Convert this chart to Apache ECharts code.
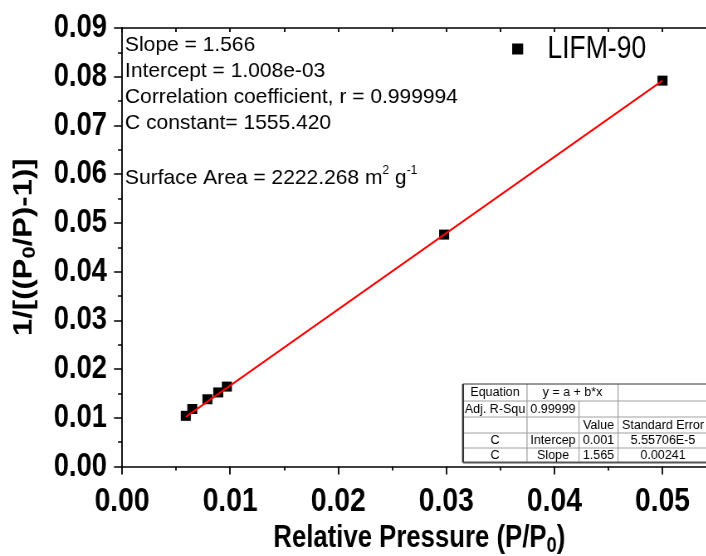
<!DOCTYPE html>
<html>
<head>
<meta charset="utf-8">
<script src="https://cdn.jsdelivr.net/npm/echarts@6/dist/echarts.min.js"></script>
<style>
  html, body { margin: 0; padding: 0; background: #fff; overflow: hidden; width: 706px; height: 556px; }
  /* The figure is laid out wide and compressed horizontally, like the original export */
  #chart { width: 851px; height: 556px; transform: scaleX(0.83); transform-origin: 0 0; }
</style>
</head>
<body>
<div id="chart"></div>
<script>
// BET plot data: relative pressure vs 1/[((P0/P)-1)]
const pressure = [0.0059, 0.0065, 0.0079, 0.0089, 0.0097, 0.0298, 0.0500];
const betValue = [0.0104, 0.0118, 0.0138, 0.0152, 0.0164, 0.0476, 0.0792];

// End points of the linear fit line
const fitPressure = [0.0059, 0.0500];
const fitValue = [0.0102, 0.0792];

const xTickLabels = ['0.00', '0.01', '0.02', '0.03', '0.04', '0.05'];
const yTickLabels = ['0.00', '0.01', '0.02', '0.03', '0.04', '0.05', '0.06', '0.07', '0.08', '0.09'];

const seriesName = 'LIFM-90';

// Fit summary text
const fitNotes = [
  'Slope = 1.566',
  'Intercept = 1.008e-03',
  'Correlation coefficient, r = 0.999994',
  'C constant= 1555.420'
];
const surfaceAreaText = 'Surface Area = 2222.268 m{sup|2} g{sup|-1}';

// Regression table rows: [col1, col2, col3, col4]; null = merged into the cell on its left
const tableRows = [
  ['Equation', 'y = a + b*x', null, ''],
  ['Adj. R-Squ', '0.99999', '', ''],
  ['', '', 'Value', 'Standard Error'],
  ['C', 'Intercep', '0.001', '5.55706E-5'],
  ['C', 'Slope', '1.565', '0.00241']
];

const S = 0.83;              // horizontal compression of the whole figure
const X = v => v / S;        // screen x -> canvas x
const SANS = "'Liberation Sans', Arial, sans-serif";

function labelFrom(list) {
  return function (v) {
    const idx = Math.round(v / 0.01);
    if (Math.abs(v - idx * 0.01) > 1e-9) return '';
    return list[idx] !== undefined ? list[idx] : '';
  };
}

// ---- regression table ----
const colX = [463, 527, 579, 618, 709].map(X);
const rowY = [384, 401, 417, 433, 448, 462.5];
const tableEls = [];
const lightH = { stroke: '#a0a0a0', lineWidth: 1 };
const lightV = { stroke: '#a0a0a0', lineWidth: 1 / S };
for (let r = 1; r < rowY.length - 1; r++) {
  tableEls.push({ type: 'line', shape: { x1: colX[0], y1: rowY[r], x2: colX[4], y2: rowY[r] }, style: lightH });
}
for (let c = 1; c < colX.length - 1; c++) {
  for (let r = 0; r < tableRows.length; r++) {
    if (c === 2 && tableRows[r][2] === null) continue;
    tableEls.push({ type: 'line', shape: { x1: colX[c], y1: rowY[r], x2: colX[c], y2: rowY[r + 1] }, style: lightV });
  }
}
tableEls.push({ type: 'line', shape: { x1: colX[0], y1: rowY[0], x2: colX[4], y2: rowY[0] }, style: { stroke: '#333', lineWidth: 1 } });
tableEls.push({ type: 'line', shape: { x1: colX[0], y1: rowY[0], x2: colX[0], y2: rowY[5] }, style: { stroke: '#333', lineWidth: 2 / S } });
tableEls.push({ type: 'line', shape: { x1: colX[0], y1: rowY[5], x2: colX[4], y2: rowY[5] }, style: { stroke: '#555', lineWidth: 2 } });
tableRows.forEach((row, r) => {
  const cy = (rowY[r] + rowY[r + 1]) / 2 + 0.5;
  row.forEach((txt, c) => {
    if (!txt) return;
    let x1 = colX[c], x2 = colX[c + 1];
    if (c === 1 && row[2] === null) x2 = colX[3];
    const cx = c === 3 ? X(663) : (x1 + x2) / 2;
    tableEls.push({
      type: 'text', x: cx, y: cy, scaleX: 1 / S,
      style: { x: 0, y: 0, text: txt, align: 'center', verticalAlign: 'middle',
               fontSize: 12.5, fontFamily: SANS, fill: '#000' }
    });
  });
});

// ---- annotation lines at the upper left of the plot (drawn at natural width) ----
const noteY = [45, 71, 97, 123];
const noteEls = fitNotes.map((t, i) => ({
  type: 'text', x: X(125), y: noteY[i], scaleX: 1 / S,
  style: { x: 0, y: 0, text: t, verticalAlign: 'middle',
           fontSize: 21, fontFamily: SANS, fill: '#000' }
}));
noteEls.push({
  type: 'text', x: X(125), y: 178, scaleX: 1 / S,
  style: {
    x: 0, y: 0,
    text: '{n|' + surfaceAreaText.replace(/\{sup\|([^}]*)\}/g, '}{sup|$1}{n|') + '}',
    verticalAlign: 'middle',
    rich: {
      n: { fontSize: 21, fontFamily: SANS, fill: '#000', lineHeight: 26 },
      sup: { fontSize: 12, fontFamily: SANS, fill: '#000', verticalAlign: 'top', lineHeight: 14 }
    }
  }
});

const chart = echarts.init(document.getElementById('chart'), null, { renderer: 'canvas', width: 851, height: 556 });

const hLine = { color: '#000', width: 1.5 };       // horizontal strokes
const vLine = { color: '#000', width: 1.5 / S };   // vertical strokes

chart.setOption({
  animation: false,
  backgroundColor: '#fff',
  grid: { left: X(122), right: 851 - (X(122) + 0.055 * X(10810)), top: 28, bottom: 89.5,
          containLabel: false, outerBoundsMode: 'none' },
  legend: {
    data: [seriesName],
    left: X(508), top: 28,
    icon: 'rect', itemWidth: X(11), itemHeight: 11, itemGap: 0,
    textStyle: { fontSize: 32, fontFamily: SANS, color: '#000', padding: [0, 0, 10, X(20)] }
  },
  xAxis: [
    {
      type: 'value', min: 0, max: 0.055, interval: 0.01, position: 'bottom',
      axisLine: { show: true, onZero: false, lineStyle: hLine },
      axisTick: { show: true, inside: false, length: 8, lineStyle: vLine },
      minorTick: { show: true, splitNumber: 2, length: 4, lineStyle: vLine },
      splitLine: { show: false },
      axisLabel: { show: true, margin: 18, fontSize: 34, fontWeight: 'bold', fontFamily: SANS, color: '#000',
                   formatter: labelFrom(xTickLabels) },
      name: '{a|Relative Pressure (P/P}{s|0}{a|)}',
      nameLocation: 'middle', nameGap: 53,
      nameTextStyle: {
        rich: {
          a: { fontSize: 31, fontWeight: 'bold', fontFamily: SANS, color: '#000', lineHeight: 36 },
          s: { fontSize: 22, fontWeight: 'bold', fontFamily: SANS, color: '#000', verticalAlign: 'bottom', lineHeight: 22 }
        }
      }
    },
    {
      type: 'value', min: 0, max: 0.055, interval: 0.01, position: 'top',
      axisLine: { show: true, onZero: false, lineStyle: hLine },
      axisTick: { show: true, inside: true, length: 4, lineStyle: vLine },
      minorTick: { show: true, splitNumber: 2, length: 4, lineStyle: vLine },
      splitLine: { show: false },
      axisLabel: { show: false }
    }
  ],
  yAxis: [
    {
      type: 'value', min: 0, max: 0.09, interval: 0.01, position: 'left',
      axisLine: { show: true, onZero: false, lineStyle: vLine },
      axisTick: { show: true, inside: false, length: X(8), lineStyle: hLine },
      minorTick: { show: true, splitNumber: 2, length: X(4), lineStyle: hLine },
      splitLine: { show: false },
      axisLabel: { show: true, margin: X(15), fontSize: 33, fontWeight: 'bold', fontFamily: SANS, color: '#000',
                   formatter: labelFrom(yTickLabels) },
      name: '{a|1/[((P}{s|0}{a|/P)-1)]}',
      nameLocation: 'middle', nameGap: 100, nameRotate: 90,
      nameTextStyle: {
        rich: {
          a: { fontSize: 31, fontWeight: 'bold', fontFamily: SANS, color: '#000', lineHeight: 36 },
          s: { fontSize: 22, fontWeight: 'bold', fontFamily: SANS, color: '#000', verticalAlign: 'bottom', lineHeight: 22 }
        }
      }
    }
  ],
  series: [
    {
      name: seriesName, type: 'scatter', xAxisIndex: 0, yAxisIndex: 0,
      symbol: 'rect', symbolSize: [X(10), 10],
      itemStyle: { color: '#000', opacity: 1 },
      data: pressure.map((p, i) => [p, betValue[i]]),
      z: 2
    },
    {
      name: 'fit', type: 'line', xAxisIndex: 0, yAxisIndex: 0,
      showSymbol: false, symbol: 'none',
      lineStyle: { color: '#ff0000', width: 2 },
      data: fitPressure.map((p, i) => [p, fitValue[i]]),
      z: 3
    }
  ],
  graphic: [...noteEls, ...tableEls]
});
</script>
</body>
</html>
